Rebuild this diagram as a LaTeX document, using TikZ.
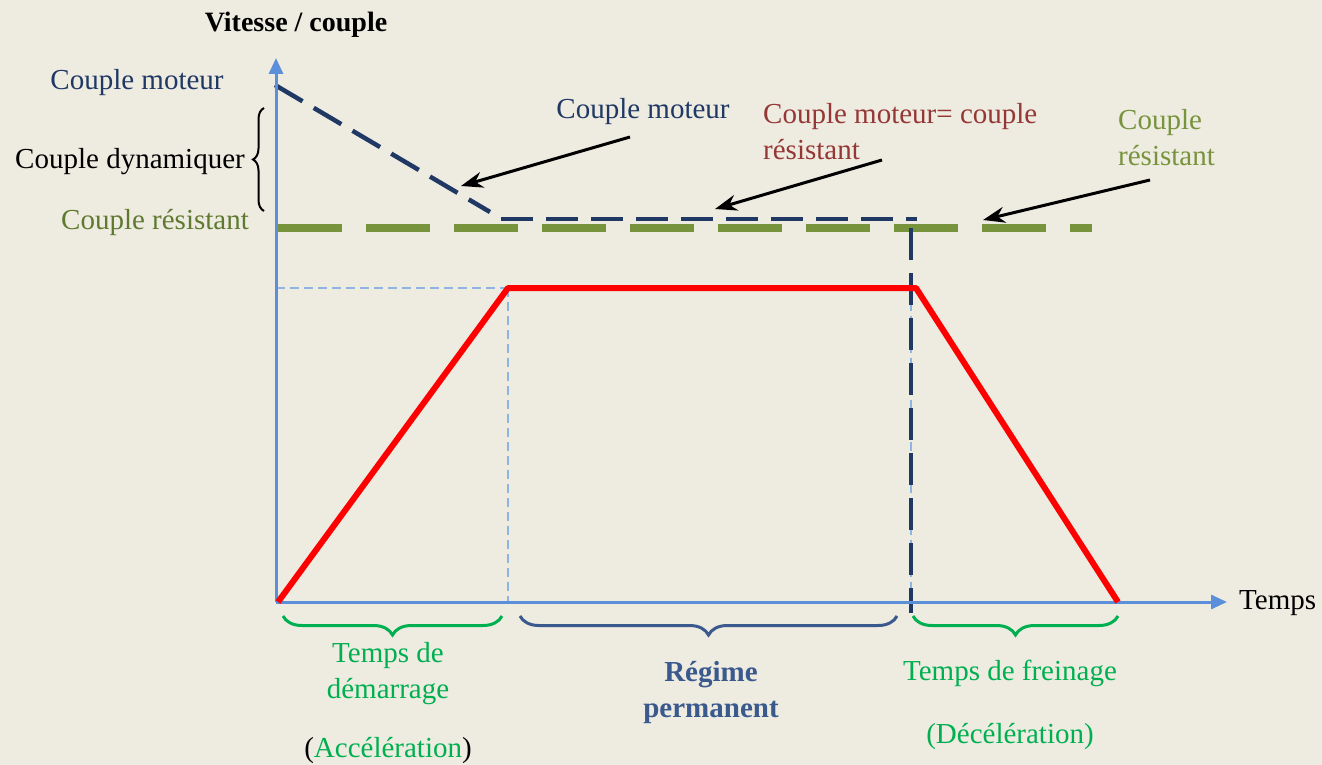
\documentclass[tikz,border=0pt]{standalone}
\usepackage{fontspec}
\setmainfont{Liberation Serif}
\usetikzlibrary{arrows.meta,decorations.pathreplacing}
\definecolor{bg}{HTML}{EEEBE1}
\definecolor{axisblue}{HTML}{5B8FD9}
\definecolor{lightblue}{HTML}{8DB4E2}
\definecolor{navy}{HTML}{1F3864}
\definecolor{olive}{HTML}{77933C}
\definecolor{olivetext}{HTML}{5F7A30}
\definecolor{darkred}{HTML}{953735}
\definecolor{brgreen}{HTML}{00B050}
\definecolor{regblue}{HTML}{3A5A8E}
\begin{document}
\begin{tikzpicture}[x=1pt,y=-1pt,
  lbl/.style={inner sep=0pt, font=\fontsize{29}{36}\selectfont, align=center},
  axisline/.style={axisblue, line width=3pt, -{Triangle[length=16pt,width=14pt]}},
  guide/.style={lightblue, line width=2pt, dash pattern=on 9pt off 5pt},
  navydash/.style={navy, line width=4.5pt, dash pattern=on 32pt off 13pt},
  greendash/.style={olive, line width=8pt, dash pattern=on 64pt off 24pt},
  speed/.style={red, line width=6pt, line join=round},
  pointer/.style={black, line width=3pt, -{Stealth[length=22pt,width=16pt]}},
  bracegreen/.style={brgreen, line width=3pt, decorate, decoration={brace, mirror, amplitude=19pt}},
  braceblue/.style={regblue, line width=3pt, decorate, decoration={brace, mirror, amplitude=19pt}},
  braceblack/.style={black, line width=2pt, decorate, decoration={brace, amplitude=11pt}}
]
\fill[bg] (0,0) rectangle (1322,765);
\useasboundingbox (0,0) rectangle (1322,765);

% coordinates
\coordinate (O) at (276,602);
\coordinate (ytip) at (276,58);
\coordinate (xtip) at (1227,602);
\coordinate (A) at (508,288);
\coordinate (B) at (916,288);
\coordinate (C) at (1118,602);
\coordinate (Y288) at (276,288);
\coordinate (A0) at (508,602);
\coordinate (B0) at (911,602);

% guides
\draw[guide] (Y288) -- (A);
\draw[guide] (A) -- (A0);
\draw[guide] (911,288) -- (B0);

% green dashed couple resistant
\coordinate (G0) at (278,228);
\coordinate (G1) at (1092,228);
\draw[greendash] (G0) -- (G1);

% navy dashed couple moteur
\coordinate (M0) at (275,85);
\coordinate (M1) at (490,212);
\coordinate (M2) at (501,219);
\coordinate (M3) at (917,219);
\coordinate (V0) at (911,228);
\coordinate (V1) at (911,613);
\draw[navydash] (M0) -- (M1);
\draw[navydash] (M2) -- (M3);
\draw[navydash] (V0) -- (V1);

% axes
\draw[axisline] (O) -- (ytip);
\draw[axisline] (O) -- (xtip);

% speed profile
\draw[speed] (278,602) -- (A) -- (B) -- (C);

% labels
\node[lbl, font=\fontsize{28}{36}\selectfont\bfseries] (title) at (296,25) {Vitesse / couple};
\node[lbl, navy] (cm1) at (137,83) {Couple moteur};
\node[lbl] (cdyn) at (130,162) {Couple dynamiquer};
\node[lbl, olivetext] (cr1) at (155,223) {Couple résistant};
\node[lbl, navy] (cm2) at (643,112) {Couple moteur};
\node[lbl, darkred, align=left, anchor=north west] (eq) at (763,103) {Couple moteur= couple\\résistant};
\node[lbl, olive, align=left, anchor=west] (cr2) at (1118,138) {Couple\\résistant};
\node[lbl, anchor=west] (temps) at (1239,603) {Temps};

% pointers
\coordinate (p1) at (630,137);
\coordinate (t1) at (461,186);
\coordinate (p2) at (882,160);
\coordinate (t2) at (715,209);
\coordinate (p3) at (1150,180);
\coordinate (t3) at (983,220);
\draw[pointer] (p1) -- (t1);
\draw[pointer] (p2) -- (t2);
\draw[pointer] (p3) -- (t3);

% left brace
\coordinate (bl0) at (264,211);
\coordinate (bl1) at (264,108);
\draw[braceblack] (bl0) -- (bl1);

% bottom braces
\coordinate (b1a) at (283,616);
\coordinate (b1b) at (502,616);
\coordinate (b2a) at (520,616);
\coordinate (b2b) at (897,616);
\coordinate (b3a) at (913,616);
\coordinate (b3b) at (1118,616);
\draw[bracegreen] (b1a) -- (b1b);
\draw[braceblue] (b2a) -- (b2b);
\draw[bracegreen] (b3a) -- (b3b);

\node[lbl, brgreen] (tdem) at (388,674) {Temps de\\démarrage};
\node[lbl] (acc) at (388,750) {(\textcolor{brgreen}{Accélération})};
\node[lbl, regblue, font=\fontsize{29}{36}\selectfont\bfseries] (reg) at (711,693) {Régime\\permanent};
\node[lbl, brgreen] (tfr) at (1010,673) {Temps de freinage};
\node[lbl, brgreen] (dec) at (1010,736) {(Décélération)};
\end{tikzpicture}
\end{document}
